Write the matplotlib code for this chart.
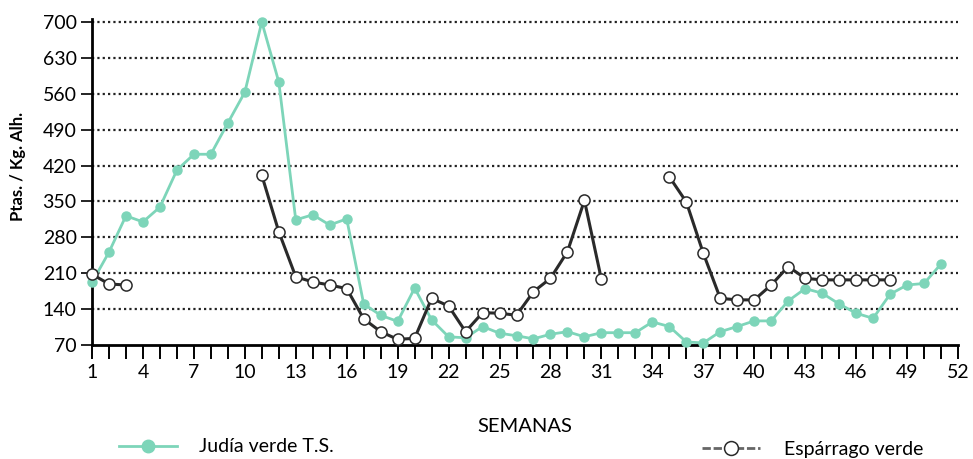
import matplotlib
matplotlib.use("Agg")
import matplotlib.pyplot as plt
import numpy as np
from matplotlib.lines import Line2D

plt.rcParams['font.family'] = ['Lato', 'DejaVu Sans']

# Judía verde T.S. (weeks 1-51)
judia_weeks = list(range(1, 52))
judia_vals = [192, 251, 322, 310, 339, 411, 442, 442, 503, 563,
              700, 583, 314, 324, 304, 316, 150, 128, 116, 181,
              119, 86, 84, 106, 93, 88, 82, 91, 96, 86,
              94, 94, 94, 115, 106, 76, 74, 96, 106, 117,
              117, 156, 180, 171, 150, 132, 122, 169, 187, 190,
              228]

# Espárrago verde, three separate stretches
esp_weeks_a = [1, 2, 3]
esp_vals_a = [208, 189, 187]
esp_weeks_b = list(range(11, 32))
esp_vals_b = [401, 291, 203, 193, 187, 180, 121, 96, 81, 83,
              161, 146, 96, 133, 132, 128, 174, 200, 252, 352, 198]
esp_weeks_c = list(range(35, 49))
esp_vals_c = [398, 349, 249, 161, 158, 158, 187, 223, 200, 197,
              197, 197, 197, 197]

y_ticks = [70, 140, 210, 280, 350, 420, 490, 560, 630, 700]
x_ticks_lab = list(range(1, 53, 3))

green = '#7dd5b9'
dark = '#2a2a2a'

fig = plt.figure(figsize=(9.73, 4.59), dpi=100)
ax = fig.add_axes([92/973, 114/459, 866/973, 325.6/459])

for yv in y_ticks[1:]:
    ax.axhline(yv, color='#222222', lw=1.6, ls=(0, (1, 1.4)), zorder=1)

ax.plot(judia_weeks, judia_vals, color=green, lw=2, marker='o', ms=6.5,
        mfc=green, mec=green, zorder=3, clip_on=False)
for wk, vals in [(esp_weeks_a, esp_vals_a), (esp_weeks_b, esp_vals_b),
                 (esp_weeks_c, esp_vals_c)]:
    ax.plot(wk, vals, color=dark, lw=2.2, marker='o', ms=8, mfc='white',
            mec=dark, mew=1.1, zorder=4, clip_on=False)

ax.set_xlim(1, 52)
ax.set_ylim(70, 705)
ax.set_yticks(y_ticks)
ax.set_xticks(range(1, 53), minor=False)
ax.set_xticklabels([str(w) if w in x_ticks_lab else '' for w in range(1, 53)])
ax.tick_params(axis='x', direction='out', length=10, width=1.4, labelsize=14, pad=4)
ax.tick_params(axis='y', direction='out', length=8, width=1.2, labelsize=14, pad=3)
for s in ['top', 'right']:
    ax.spines[s].set_visible(False)
ax.spines['left'].set_linewidth(2)
ax.spines['bottom'].set_linewidth(2)

fig.text(18/973, 1 - 166/459, 'Ptas. / Kg. Alh.', rotation=90, fontsize=12,
         fontweight='bold', ha='center', va='center')
fig.text(525/973, 1 - 427/459, 'SEMANAS', fontsize=14.5, ha='center', va='center')

h1 = Line2D([], [], color=green, lw=2, marker='o', ms=9, mfc=green, mec=green)
h2 = Line2D([], [], color='#666666', lw=2, ls=(0, (3, 1)), marker='o', ms=10,
            mfc='white', mec=dark, mew=1.1)
fig.legend([h1], ['Judía verde T.S.'], loc='center left',
           bbox_to_anchor=(119/973, 1 - 447/459), frameon=False, fontsize=14,
           handlelength=3, handletextpad=1.1, borderpad=0, borderaxespad=0)
fig.legend([h2], ['Espárrago verde'], loc='center left',
           bbox_to_anchor=(702/973, 1 - 449/459), frameon=False, fontsize=14,
           handlelength=3, handletextpad=1.2, borderpad=0, borderaxespad=0)

fig.savefig('out.png', dpi=100)
